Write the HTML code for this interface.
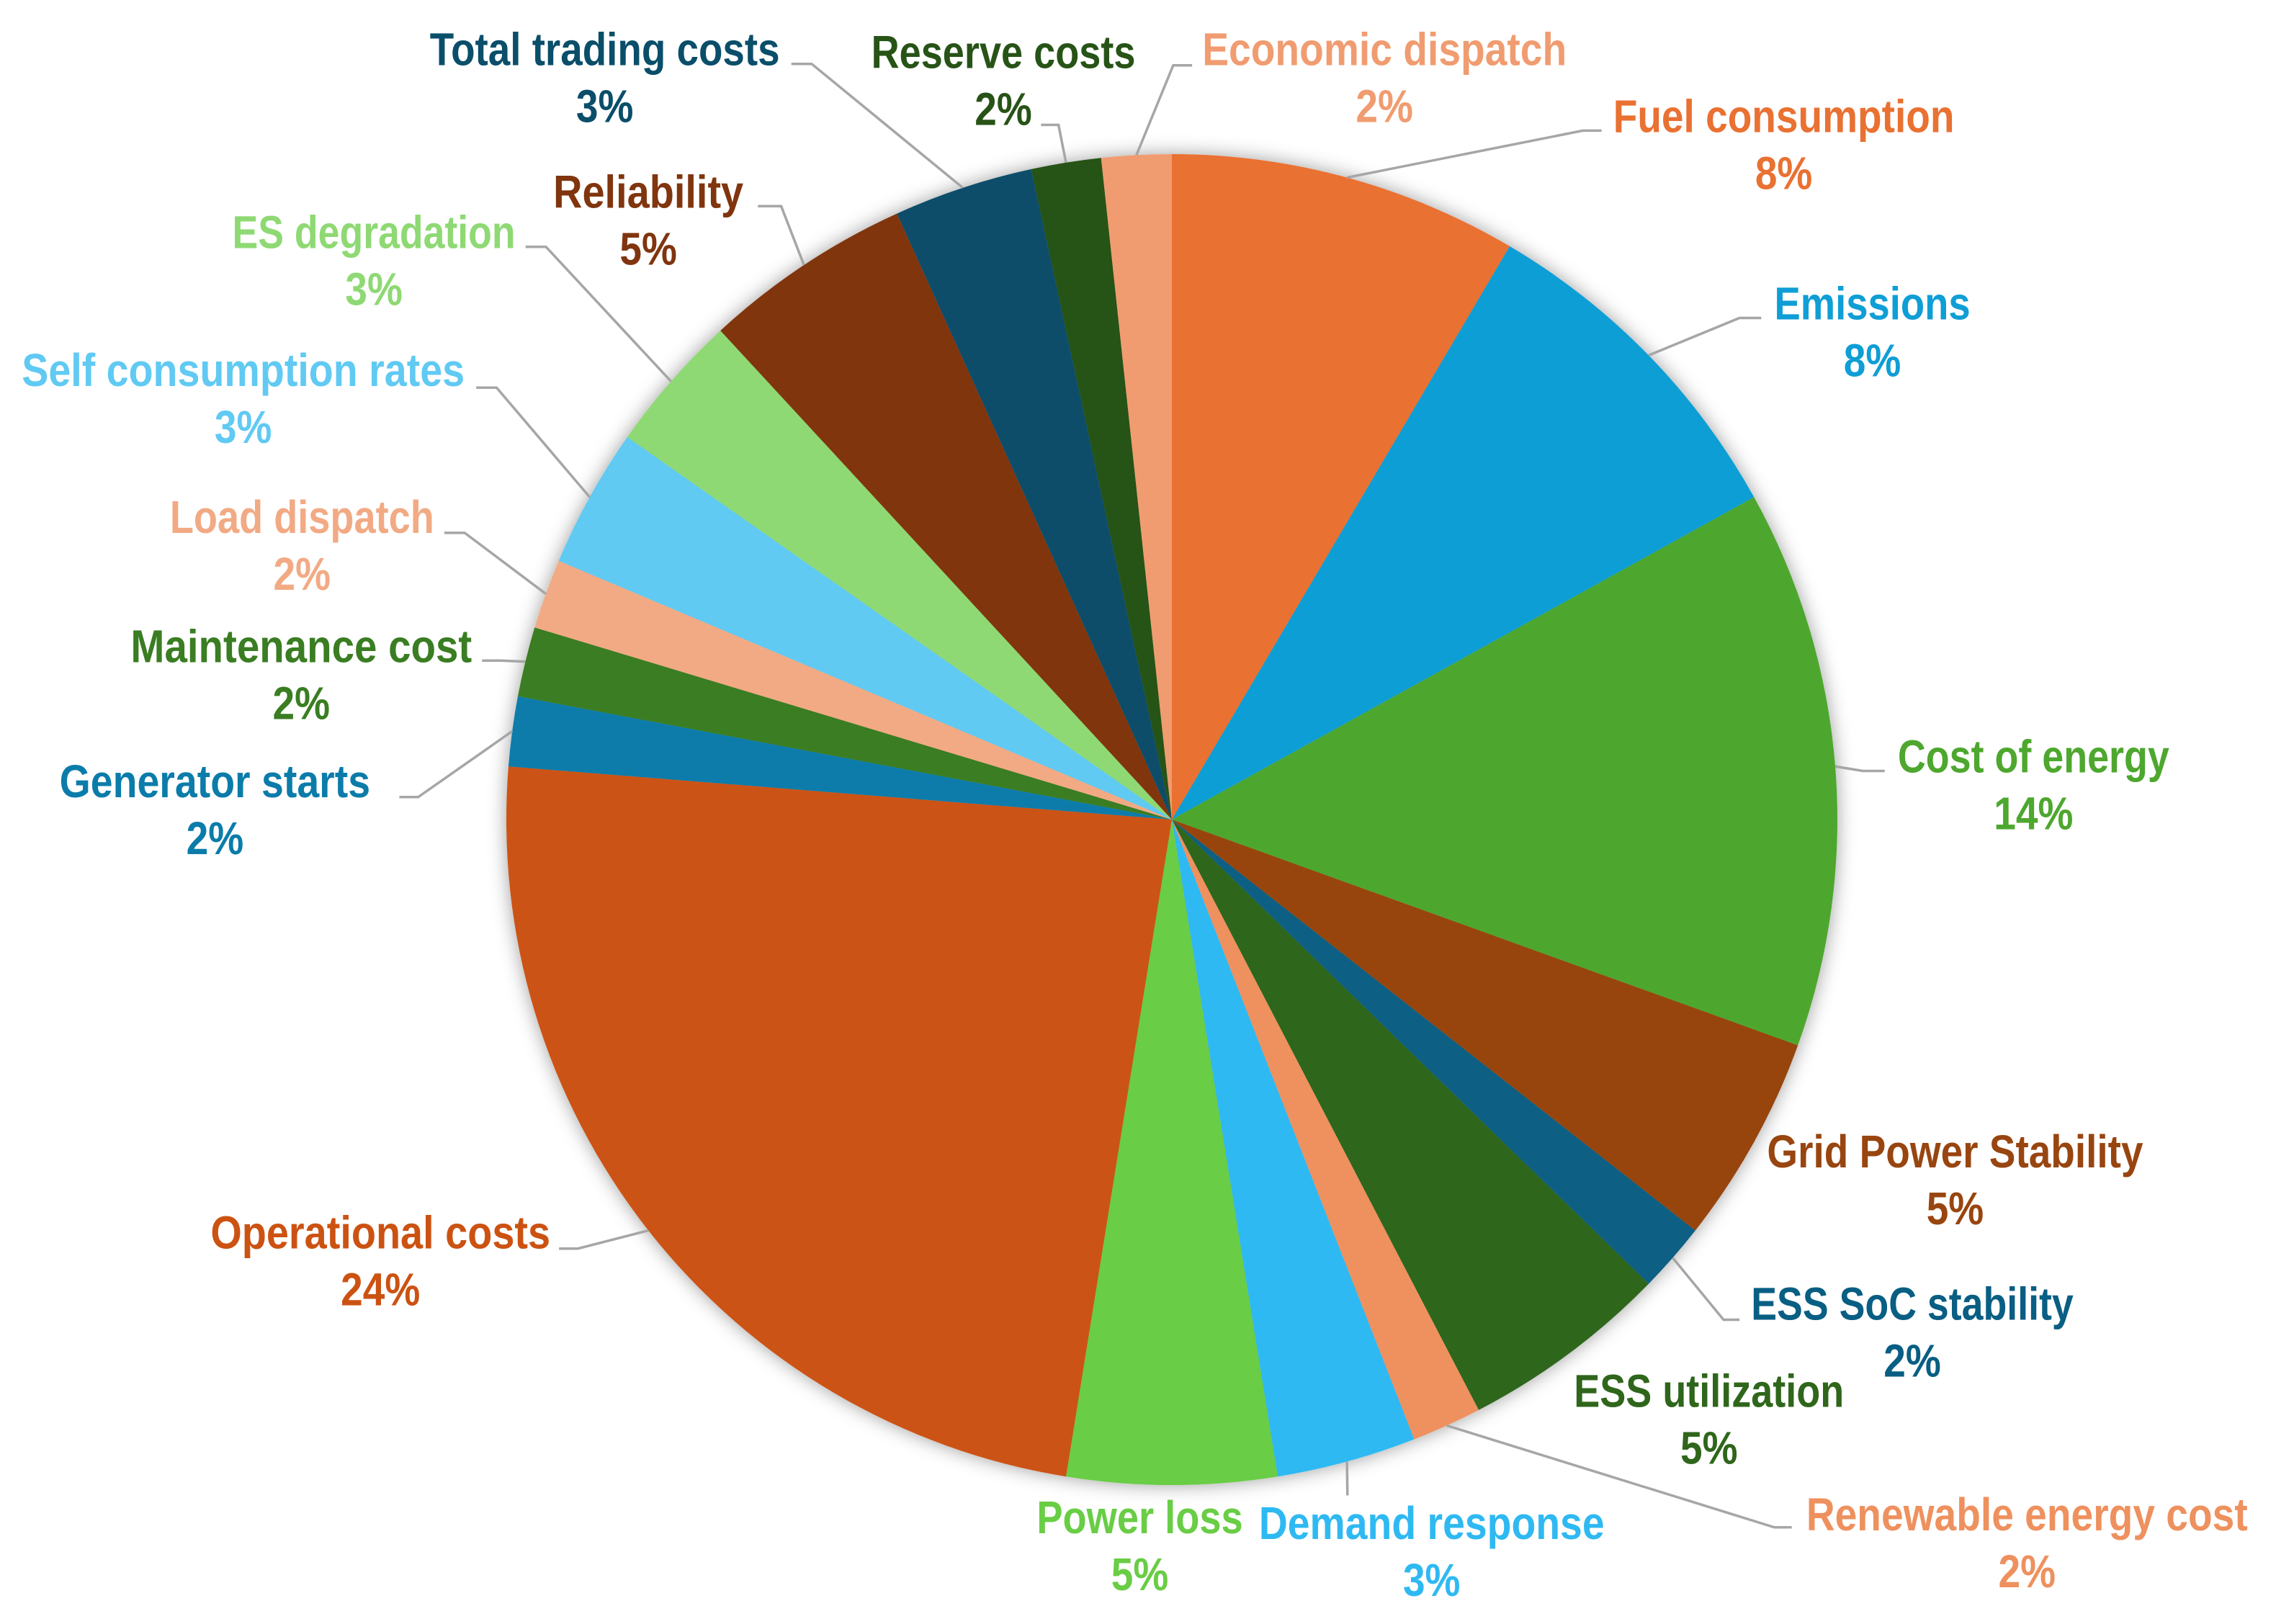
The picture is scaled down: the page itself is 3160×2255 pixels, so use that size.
<!DOCTYPE html>
<html lang="en">
<head>
<meta charset="utf-8">
<title>Objective share pie chart</title>
<style>
html,body{margin:0;padding:0;background:#fff;width:3160px;height:2255px;overflow:hidden}
svg{display:block}
text{font-family:"Liberation Sans Narrow","Liberation Sans",sans-serif;font-weight:700}
</style>
</head>
<body>
<svg id="chart" xmlns="http://www.w3.org/2000/svg" width="3160" height="2255" viewBox="0 0 3160 2255">
  <defs>
    <filter id="pie-shadow" x="-10%" y="-10%" width="120%" height="120%">
      <feDropShadow dx="0" dy="0" stdDeviation="13" flood-color="#000" flood-opacity="0.38"/>
    </filter>
  </defs>
  <rect x="0" y="0" width="3160" height="2255" fill="#ffffff"/>
  <g id="slices" filter="url(#pie-shadow)"></g>
  <g id="leaders"></g>
  <g id="labels"></g>
</svg>
<script>
const categories = ["Fuel consumption","Emissions","Cost of energy","Grid Power Stability","ESS SoC stability","ESS utilization","Renewable energy cost","Demand response","Power loss","Operational costs","Generator starts","Maintenance cost","Load dispatch","Self consumption rates","ES degradation","Reliability","Total trading costs","Reserve costs","Economic dispatch"];
const values = [5,5,8,3,1,3,1,2,3,14,1,1,1,2,2,3,2,1,1];
const colors = ["#E97132","#0F9ED5","#4EA72E","#984510","#095E83","#2F661B","#EE915E","#2FB9F2","#69CD45","#CC5212","#0B7CAA","#3A7D22","#F2AA84","#60CAF3","#8ED973","#80350E","#0A4E6A","#275317","#F09C70"];

/* Label placement in reference display units (left, right, middle y, optional leader stub/elbow). */
const S = 3160 / 1567.5;
const labelLayout = {
  "Fuel consumption":[1111,1346,80,[1103,90],[1090,90]],
  "Emissions":[1222,1357,209,[1213,219],[1198,219]],
  "Cost of energy":[1307,1494,521,[1298,531],[1283,531]],
  "Grid Power Stability":[1217,1476,793],
  "ESS SoC stability":[1206,1428,898,[1198,909],[1187,909]],
  "ESS utilization":[1084,1270,958],
  "Renewable energy cost":[1244,1548,1043,[1234,1052],[1222,1052]],
  "Demand response":[867,1105,1049,[928,1030],[928,1030]],
  "Power loss":[714,856,1045],
  "Operational costs":[145,379,849,[385,860],[398,860]],
  "Generator starts":[41,255,538,[275,549],[288,549]],
  "Maintenance cost":[90,325,445,[332,455],[345,455]],
  "Load dispatch":[117,299,356,[306,367],[320,367]],
  "Self consumption rates":[15,320,255,[328,267],[342,267]],
  "ES degradation":[160,355,160,[362,170],[376,170]],
  "Reliability":[381,512,132,[522,142],[538,142]],
  "Total trading costs":[296,537,34,[545,44],[559,44]],
  "Reserve costs":[600,782,36,[717,86],[729,86]],
  "Economic dispatch":[828,1079,34,[821,45],[808,45]]
};

const NS = "http://www.w3.org/2000/svg";
const CX = 1627, CY = 1138, R = 924, FONT = 64, PCT_SQUEEZE = 0.86;
const total = values.reduce(function (a, b) { return a + b; }, 0);

function angleOf(v) { return v / total * Math.PI * 2; }
function px(a, r) { return CX + r * Math.sin(a); }
function py(a, r) { return CY - r * Math.cos(a); }
function slug(s) { return s.toLowerCase().replace(/[^a-z0-9]+/g, "-"); }

const sliceGroup = document.getElementById("slices");
const leaderGroup = document.getElementById("leaders");
const labelGroup = document.getElementById("labels");

let cumulative = 0;
categories.forEach(function (name, i) {
  const a0 = angleOf(cumulative);
  const a1 = angleOf(cumulative + values[i]);
  const mid = (a0 + a1) / 2;
  cumulative += values[i];

  const slice = document.createElementNS(NS, "path");
  
  
  const large = a1 - a0 > Math.PI ? 1 : 0;
  slice.setAttribute("d", "M" + CX + " " + CY + "L" + px(a0, R) + " " + py(a0, R) +
    "A" + R + " " + R + " 0 " + large + " 1 " + px(a1, R) + " " + py(a1, R) + "Z");
  slice.setAttribute("fill", colors[i]);
  sliceGroup.appendChild(slice);

  const lay = labelLayout[name];
  if (lay[3]) {
    const leader = document.createElementNS(NS, "polyline");
    
    
    leader.setAttribute("points",
      (lay[3][0] * S) + "," + (lay[3][1] * S) + " " +
      (lay[4][0] * S) + "," + (lay[4][1] * S) + " " +
      px(mid, R) + "," + py(mid, R));
    leader.setAttribute("fill", "none");
    leader.setAttribute("stroke", "#a6a6a6");
    leader.setAttribute("stroke-width", "3.5");
    leaderGroup.appendChild(leader);
  }

  const left = lay[0] * S, right = lay[1] * S;
  const midX = (left + right) / 2;
  const baseY = (lay[2] + 11) * S;

  const title = document.createElementNS(NS, "text");
  
  
  title.setAttribute("x", left);
  title.setAttribute("y", baseY);
  title.setAttribute("font-size", FONT);
  title.setAttribute("fill", colors[i]);
  title.setAttribute("textLength", right - left);
  title.setAttribute("lengthAdjust", "spacingAndGlyphs");
  title.textContent = name;
  labelGroup.appendChild(title);

  const pct = document.createElementNS(NS, "text");
  
  
  pct.setAttribute("x", midX);
  pct.setAttribute("y", baseY + 79);
  pct.setAttribute("font-size", FONT);
  pct.setAttribute("fill", colors[i]);
  pct.setAttribute("text-anchor", "middle");
  pct.textContent = Math.round(values[i] / total * 100) + "%";
  labelGroup.appendChild(pct);
  pct.setAttribute("textLength", pct.getComputedTextLength() * PCT_SQUEEZE);
  pct.setAttribute("lengthAdjust", "spacingAndGlyphs");
});
</script>
</body>
</html>
